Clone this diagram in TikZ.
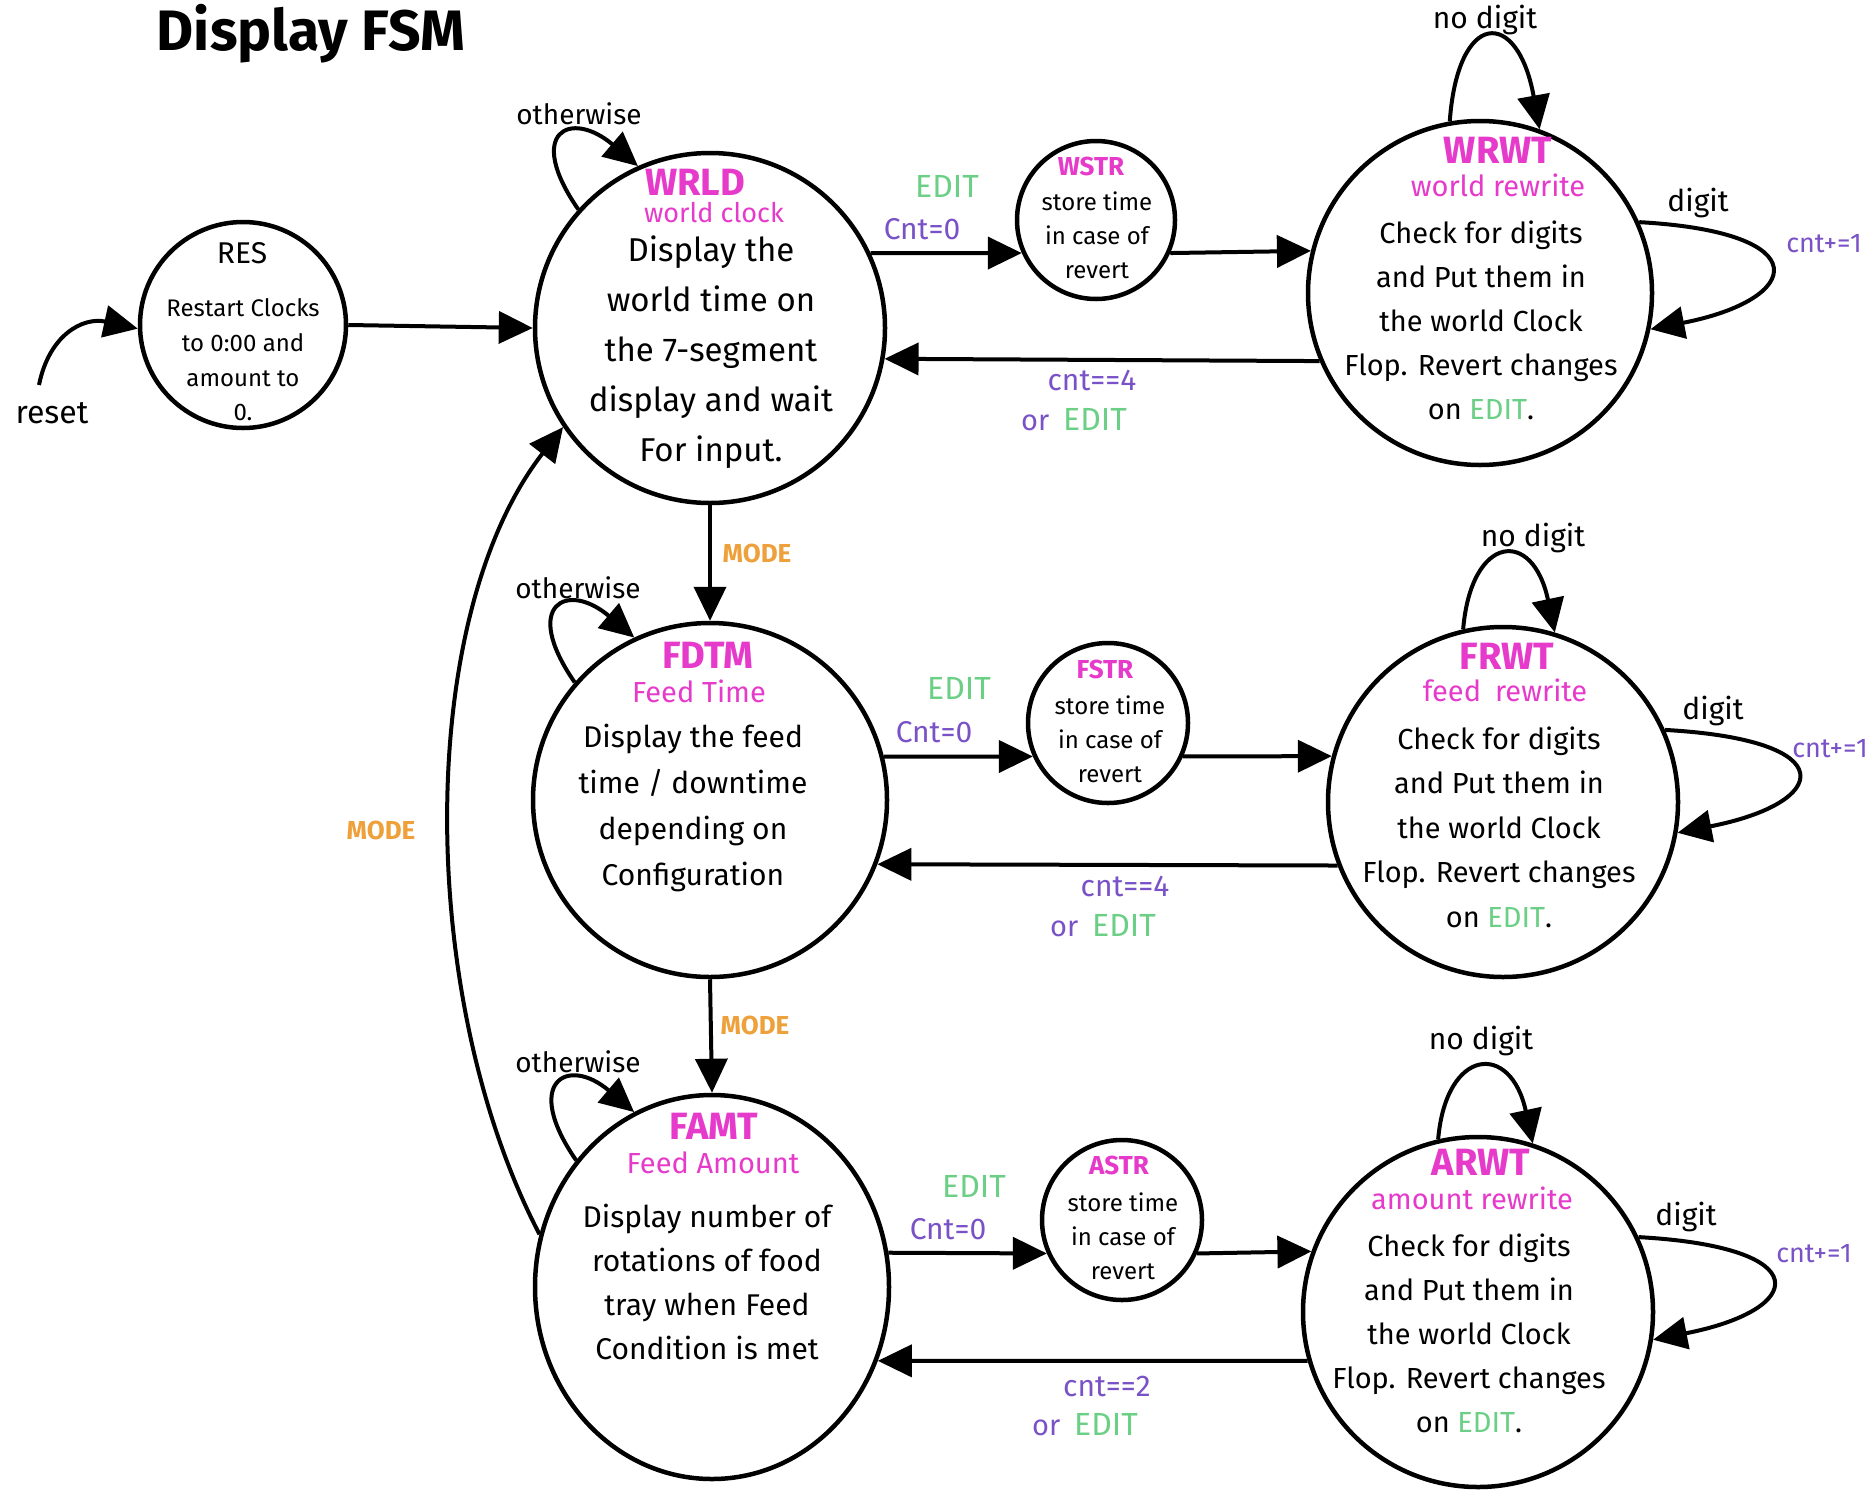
\documentclass[tikz,border=0pt]{standalone}
\usepackage{fontspec}
\setmainfont{Fira Sans}
\usetikzlibrary{arrows.meta,shapes.geometric}
\definecolor{mag}{HTML}{E63ACB}
\definecolor{edgreen}{HTML}{6CCF86}
\definecolor{purp}{HTML}{7A52C7}
\definecolor{orng}{HTML}{EEA03A}
\begin{document}
\begin{tikzpicture}[x=1pt,y=-1pt,
 stc/.style={circle,draw,line width=4.5pt,inner sep=0pt,minimum size=#1},
 arr/.style={line width=4pt,-{Triangle[length=34pt,width=32pt]}},
 ttl/.style={text=mag,inner sep=0pt,font=\fontsize{38}{44}\selectfont\bfseries},
 sttl/.style={text=mag,inner sep=0pt,font=\fontsize{26}{30}\selectfont\bfseries},
 subt/.style={text=mag,inner sep=0pt,font=\fontsize{29}{34}\selectfont},
 body/.style={align=center,inner sep=0pt},
 lbl/.style={inner sep=0pt,font=\fontsize{28}{32}\selectfont},
 cond/.style={inner sep=0pt,text=purp,font=\fontsize{30}{34}\selectfont},
 incr/.style={inner sep=0pt,text=purp,font=\fontsize{27}{32}\selectfont},
 edt/.style={inner sep=0pt,text=edgreen,font=\fontsize{32}{36}\selectfont},
 modelbl/.style={inner sep=0pt,text=orng,font=\fontsize{26}{30}\selectfont\bfseries}
]
\path[use as bounding box,fill=white] (0,0) rectangle (1873,1510);

% title
\node[inner sep=0pt,anchor=base,font=\fontsize{57}{64}\selectfont\bfseries] (title) at (311,50) {Display FSM};

% states
\node[stc=206] (res) at (243,325) {};
\node[stc=350] (wrld) at (710,328) {};
\node[stc=158] (wstr) at (1096,220) {};
\node[stc=344] (wrwt) at (1480,293) {};
\node[stc=354] (fdtm) at (710,800) {};
\node[stc=160] (fstr) at (1108,723) {};
\node[stc=350] (frwt) at (1503,802) {};
\node[ellipse,draw,line width=4.5pt,inner sep=0pt,minimum width=354,minimum height=384] (famt) at (712,1287) {};
\node[stc=160] (astr) at (1122,1220) {};
\node[stc=350] (arwt) at (1478,1312) {};

% state texts
\node[lbl,font=\fontsize{30}{34}\selectfont] (res-n) at (242,253) {RES};
\node[body,font=\fontsize{24}{34.6}\selectfont] (res-b) at (243,360) {Restart Clocks\\to 0:00 and\\amount to\\0.};

\node[ttl] (wrld-n) at (695,182) {WRLD};
\node[subt,font=\fontsize{27}{32}\selectfont] (wrld-s) at (714,213) {world clock};
\node[body,font=\fontsize{33}{50}\selectfont] (wrld-b) at (711,352) {Display the\\world time on\\the 7-segment\\display and wait\\For input.};

\node[sttl] (wstr-n) at (1091,166) {WSTR};
\node[body,font=\fontsize{24}{34}\selectfont] (wstr-b) at (1097,235) {store time\\in case of\\revert};

\node[ttl] (wrwt-n) at (1498,150) {WRWT};
\node[subt] (wrwt-s) at (1498,185) {world rewrite};
\node[body,font=\fontsize{29}{44}\selectfont] (wrwt-b) at (1481,320) {Check for digits\\and Put them in\\the world Clock\\Flop. Revert changes\\on {\color{edgreen}EDIT}.};

\node[ttl] (fdtm-n) at (708,655) {FDTM};
\node[subt] (fdtm-s) at (699,691) {Feed Time};
\node[body,font=\fontsize{30}{46}\selectfont] (fdtm-b) at (693,808) {Display the feed\\time / downtime\\depending on\\Configuration};

\node[sttl] (fstr-n) at (1105,669) {FSTR};
\node[body,font=\fontsize{24}{34}\selectfont] (fstr-b) at (1110,739) {store time\\in case of\\revert};

\node[ttl] (frwt-n) at (1507,656) {FRWT};
\node[subt] (frwt-s) at (1505,690) {feed\hspace{14pt}rewrite};
\node[body,font=\fontsize{29}{44.5}\selectfont] (frwt-b) at (1499,827) {Check for digits\\and Put them in\\the world Clock\\Flop. Revert changes\\on {\color{edgreen}EDIT}.};

\node[ttl] (famt-n) at (714,1126) {FAMT};
\node[subt] (famt-s) at (713,1163) {Feed Amount};
\node[body,font=\fontsize{30}{44}\selectfont] (famt-b) at (707,1282) {Display number of\\rotations of food\\tray when Feed\\Condition is met};

\node[sttl] (astr-n) at (1119,1165) {ASTR};
\node[body,font=\fontsize{24}{34}\selectfont] (astr-b) at (1123,1236) {store time\\in case of\\revert};

\node[ttl] (arwt-n) at (1481,1162) {ARWT};
\node[subt] (arwt-s) at (1472,1198) {amount rewrite};
\node[body,font=\fontsize{29}{44}\selectfont] (arwt-b) at (1469,1333) {Check for digits\\and Put them in\\the world Clock\\Flop. Revert changes\\on {\color{edgreen}EDIT}.};

% reset entry
\coordinate (rs) at (39,385);
\draw[arr] (rs) .. controls +(10,-50) and +(-55,-12) .. (res.182);
\node[lbl,font=\fontsize{32}{36}\selectfont] (reset-l) at (52,413) {reset};
\draw[arr] (res.east) -- (wrld.west);

% WRLD row
\draw[arr] (wrld.138) .. controls +(-54,-78) and +(-67,-57) .. (wrld.114);
\node[lbl] (wrld-o) at (579,114) {otherwise};
\draw[arr] (wrld.25) -- (wstr.204);
\node[edt] (e1) at (947,186) {EDIT};
\node[cond] (c1) at (922,229) {Cnt=0};
\draw[arr] (wstr.-24) -- (wrwt.166);
\draw[arr] (wrwt.203) -- (wrld.-10);
\node[cond] (c1b) at (1092,380) {cnt==4};
\node[inner sep=0pt,font=\fontsize{32}{36}\selectfont] (o1) at (1074,420) {{\color{purp}\fontsize{29}{32}\selectfont or}\hspace{14pt}{\color{edgreen}EDIT}};
\draw[arr] (wrwt.100) .. controls +(8,-112) and +(-22,-122) .. (wrwt.70);
\node[lbl,font=\fontsize{30}{34}\selectfont] (wrwt-nd) at (1485,20) {no digit};
\draw[arr] (wrwt.24) .. controls +(180,10) and +(153,-30) .. (wrwt.-12);
\node[lbl,font=\fontsize{30}{34}\selectfont] (wrwt-d) at (1698,203) {digit};
\node[incr] (wrwt-c) at (1824,244) {cnt+=1};

% WRLD -> FDTM
\draw[arr] (wrld.south) -- (fdtm.north);
\node[modelbl] (m1) at (757,553) {MODE};

% FDTM row
\draw[arr] (fdtm.139) .. controls +(-54,-78) and +(-67,-57) .. (fdtm.115);
\node[lbl] (fdtm-o) at (578,588) {otherwise};
\draw[arr] (fdtm.14) -- (fstr.204);
\node[edt] (e2) at (959,688) {EDIT};
\node[cond] (c2) at (934,732) {Cnt=0};
\draw[arr] (fstr.-24) -- (frwt.165);
\draw[arr] (frwt.201) -- (fdtm.-21);
\node[cond] (c2b) at (1125,886) {cnt==4};
\node[inner sep=0pt,font=\fontsize{32}{36}\selectfont] (o2) at (1103,926) {{\color{purp}\fontsize{29}{32}\selectfont or}\hspace{14pt}{\color{edgreen}EDIT}};
\draw[arr] (frwt.103) .. controls +(8,-95) and +(-22,-105) .. (frwt.73);
\node[lbl,font=\fontsize{30}{34}\selectfont] (frwt-nd) at (1533,538) {no digit};
\draw[arr] (frwt.24) .. controls +(180,10) and +(153,-30) .. (frwt.-10);
\node[lbl,font=\fontsize{30}{34}\selectfont] (frwt-d) at (1713,711) {digit};
\node[incr] (frwt-c) at (1830,749) {cnt+=1};

% FDTM -> FAMT
\draw[arr] (fdtm.south) -- (famt.north);
\node[modelbl] (m2) at (755,1025) {MODE};

% FAMT row
\draw[arr] (famt.137) .. controls +(-54,-78) and +(-67,-57) .. (famt.114);
\node[lbl] (famt-o) at (578,1062) {otherwise};
\draw[arr] (famt.11) -- (astr.204);
\node[edt] (e3) at (974,1186) {EDIT};
\node[cond] (c3) at (948,1229) {Cnt=0};
\draw[arr] (astr.-24) -- (arwt.160);
\draw[arr] (arwt.196) -- (famt.-24);
\node[cond] (c3b) at (1107,1386) {cnt==2};
\node[inner sep=0pt,font=\fontsize{32}{36}\selectfont] (o3) at (1085,1425) {{\color{purp}\fontsize{29}{32}\selectfont or}\hspace{14pt}{\color{edgreen}EDIT}};
\draw[arr] (arwt.103) .. controls +(8,-92) and +(-22,-102) .. (arwt.72);
\node[lbl,font=\fontsize{30}{34}\selectfont] (arwt-nd) at (1481,1041) {no digit};
\draw[arr] (arwt.25) .. controls +(180,10) and +(153,-30) .. (arwt.-9);
\node[lbl,font=\fontsize{30}{34}\selectfont] (arwt-d) at (1686,1217) {digit};
\node[incr] (arwt-c) at (1814,1254) {cnt+=1};

% FAMT -> WRLD
\draw[arr] (famt.163) .. controls +(-123,-236) and +(-148,190) .. (wrld.214);
\node[modelbl] (m3) at (381,830) {MODE};
\end{tikzpicture}
\end{document}
